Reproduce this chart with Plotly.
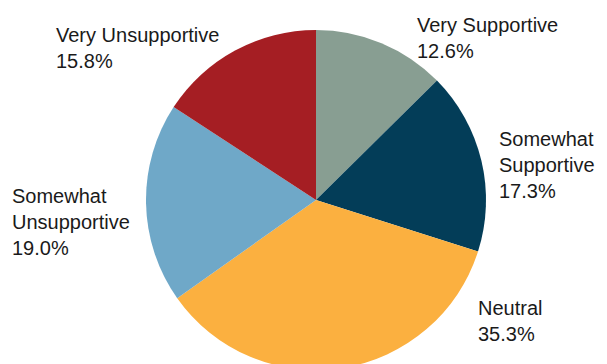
import plotly.graph_objects as go

labels = ["Very Supportive", "Somewhat Supportive", "Neutral", "Somewhat Unsupportive", "Very Unsupportive"]
label_lines = [["Very Supportive"], ["Somewhat", "Supportive"], ["Neutral"], ["Somewhat", "Unsupportive"], ["Very Unsupportive"]]
values = [12.6, 17.3, 35.3, 19.0, 15.8]
colors = ["#889E92", "#033D58", "#FBB040", "#6FA8C8", "#A51E23"]

W, H = 607, 372
cx, cy, r = 316, 200, 170

# label positions in pixels: (left, cap top)
label_pos = [(415, 17), (497, 131), (476, 300), (10, 188), (54, 27)]

fig = go.Figure(go.Pie(
    labels=labels, values=values, sort=False, direction="clockwise", rotation=0,
    marker=dict(colors=colors, line=dict(width=0)),
    textinfo="none", hoverinfo="label+percent", showlegend=False,
    domain=dict(x=[(cx - r) / W, (cx + r) / W], y=[1 - (cy + r) / H, 1 - (cy - r) / H]),
))

for lines, v, (px, py) in zip(label_lines, values, label_pos):
    fig.add_annotation(
        text="<br>".join(lines + [f"{v:.1f}%"]),
        xref="paper", yref="paper", x=px / W, y=1 - (py - 5) / H,
        xanchor="left", yanchor="top", align="left", showarrow=False,
        font=dict(family="Liberation Sans, Arial, sans-serif", size=20, color="#1a1a1a"),
    )

fig.update_layout(
    width=W, height=H, margin=dict(l=0, r=0, t=0, b=0),
    paper_bgcolor="white", plot_bgcolor="white",
)

fig.write_html("out.html", config={"displayModeBar": False},
               post_script="document.body.style.margin='0';document.body.style.overflow='hidden';")
